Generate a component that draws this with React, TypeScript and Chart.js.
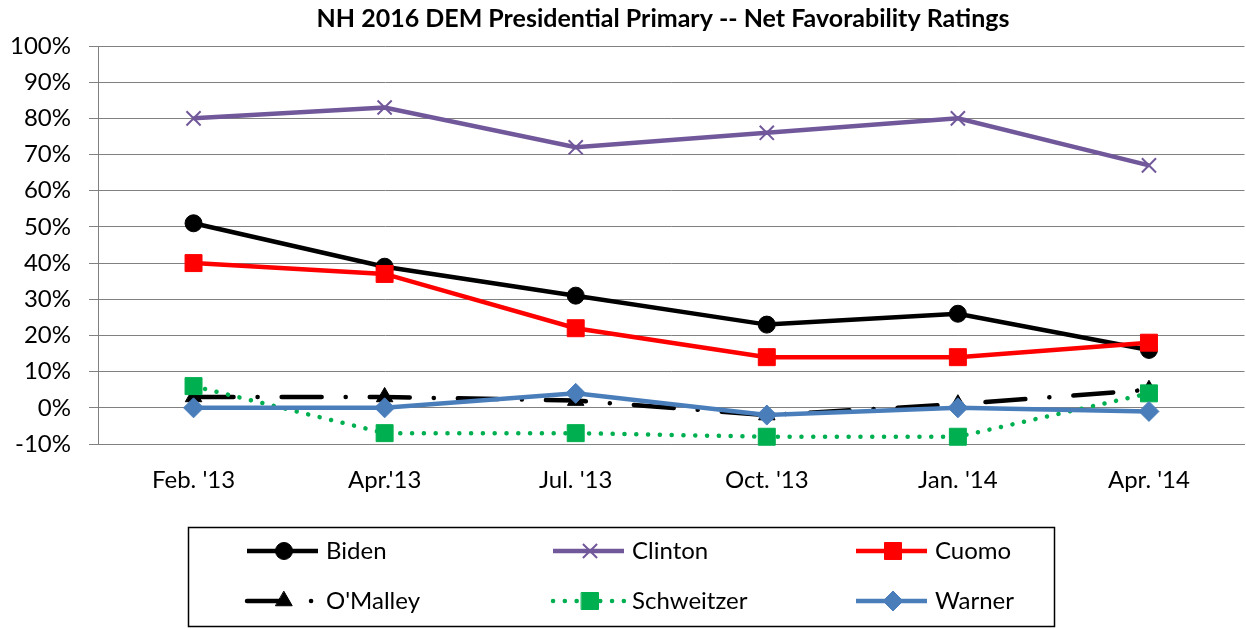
import React, { useEffect, useRef } from "react";
import { Chart, registerables } from "chart.js";
import { drawPoint } from "chart.js/helpers";

Chart.register(...registerables);

const TITLE = "NH 2016 DEM Presidential Primary -- Net Favorability Ratings";
const categories = ["Feb. '13", "Apr.'13", "Jul. '13", "Oct. '13", "Jan. '14", "Apr. '14"];
const biden = [51, 39, 31, 23, 26, 16];
const clinton = [80, 83, 72, 76, 80, 67];
const cuomo = [40, 37, 22, 14, 14, 18];
const omalley = [3, 3, 2, -2, 1, 5];
const schweitzer = [6, -7, -7, -8, -8, 4];
const warner = [0, 0, 4, -2, 0, -1];

const FONT = "Lato, 'Open Sans', sans-serif";
const AXIS_W = 98;
const PLOT_RIGHT = 1244.5;

type Series = {
  label: string;
  data: number[];
  color: string;
  style: string;
  radius: number;
  dash: number[];
  cap: CanvasLineCap;
  pbw: number;
  order: number;
};

const series: Series[] = [
  { label: "Biden", data: biden, color: "#000000", style: "circle", radius: 8.5, dash: [], cap: "butt", pbw: 1, order: 5 },
  { label: "Clinton", data: clinton, color: "#71589a", style: "crossRot", radius: 10, dash: [], cap: "butt", pbw: 2, order: 4 },
  { label: "Cuomo", data: cuomo, color: "#ff0000", style: "rect", radius: 12, dash: [], cap: "butt", pbw: 1, order: 3 },
  { label: "O'Malley", data: omalley, color: "#000000", style: "triangle", radius: 9.5, dash: [40, 24, 0.1, 24], cap: "round", pbw: 1, order: 2 },
  { label: "Schweitzer", data: schweitzer, color: "#00b050", style: "rect", radius: 12, dash: [0.1, 11.7], cap: "round", pbw: 1, order: 1 },
  { label: "Warner", data: warner, color: "#4a7ebb", style: "rectRot", radius: 10, dash: [], cap: "butt", pbw: 1, order: 0 },
];

const widenPlugin = {
  id: "widenArea",
  afterLayout(chart: any) {
    const ca = chart.chartArea;
    ca.right = PLOT_RIGHT;
    ca.width = ca.right - ca.left;
    const xs = chart.scales.x;
    xs.right = PLOT_RIGHT;
    xs.width = xs.right - xs.left;
    xs.configure();
  },
};

const legendPlugin = {
  id: "customLegend",
  afterDraw(chart: any) {
    const ctx: CanvasRenderingContext2D = chart.ctx;
    ctx.save();
    ctx.fillStyle = "#000";
    ctx.font = `bold 25px ${FONT}`;
    ctx.textAlign = "center";
    ctx.textBaseline = "alphabetic";
    ctx.fillText(TITLE, 663, 27);

    ctx.strokeStyle = "#000";
    ctx.lineWidth = 1.5;
    ctx.setLineDash([]);
    ctx.strokeRect(188.5, 527.5, 866, 99);

    const cols = [284, 590, 893];
    const rows = [551, 601];
    series.forEach((s, i) => {
      const cx = cols[i % 3];
      const cy = rows[Math.floor(i / 3)];
      ctx.save();
      ctx.strokeStyle = s.color;
      ctx.lineWidth = 4.5;
      ctx.lineCap = s.cap;
      ctx.setLineDash(s.dash);
      ctx.beginPath();
      ctx.moveTo(cx - 37, cy);
      ctx.lineTo(cx + 34, cy);
      ctx.stroke();
      ctx.setLineDash([]);
      ctx.fillStyle = s.color;
      ctx.strokeStyle = s.color;
      ctx.lineWidth = s.pbw;
      drawPoint(ctx, { pointStyle: s.style as any, rotation: 0, radius: s.radius, borderWidth: s.pbw }, cx, cy);
      ctx.restore();
      ctx.fillStyle = "#000";
      ctx.font = `24px ${FONT}`;
      ctx.textAlign = "left";
      ctx.textBaseline = "middle";
      ctx.fillText(s.label, cx + 42, cy);
    });
    ctx.restore();
  },
};

export default function App() {
  const ref = useRef<HTMLCanvasElement | null>(null);
  useEffect(() => {
    if (!ref.current) return;
    const chart = new Chart(ref.current, {
      type: "line",
      data: {
        labels: categories,
        datasets: series.map((s) => ({
          label: s.label,
          data: s.data,
          borderColor: s.color,
          backgroundColor: s.color,
          borderWidth: 4.5,
          borderDash: s.dash,
          borderCapStyle: s.cap,
          pointStyle: s.style as any,
          pointRadius: s.radius,
          pointBorderWidth: s.pbw,
          pointBackgroundColor: s.color,
          pointBorderColor: s.color,
          tension: 0,
          fill: false,
          clip: false as any,
          order: s.order,
        })),
      },
      options: {
        responsive: false,
        animation: false,
        layout: { padding: { top: 46, left: 0, right: 1.5, bottom: 0 } },
        plugins: {
          legend: { display: false },
          title: { display: false },
          tooltip: { enabled: false },
        },
        scales: {
          x: {
            offset: true,
            grid: { display: false, drawTicks: false },
            border: { display: true, color: "#808080", width: 1 },
            ticks: { color: "#000", font: { family: FONT, size: 24 }, padding: 22, maxRotation: 0 },
            afterFit: (s: any) => {
              s.height = 185;
              s.paddingLeft = 0;
              s.paddingRight = 0;
            },
          },
          y: {
            min: -10,
            max: 100,
            ticks: {
              stepSize: 10,
              color: "#000",
              font: { family: FONT, size: 24 },
              padding: 18,
              callback: (v: any) => `${v}%`,
            },
            grid: { color: "#808080", lineWidth: 1, tickLength: 9, drawTicks: true },
            border: { display: true, color: "#808080", width: 1 },
            afterFit: (s: any) => {
              s.width = AXIS_W;
              s.paddingTop = 0;
              s.paddingBottom = 0;
            },
          },
        },
      },
      plugins: [widenPlugin, legendPlugin],
    });
    return () => chart.destroy();
  }, []);
  return (
    <div style={{ position: "fixed", left: 0, top: 0, width: 1246, height: 629, background: "#fff" }}>
      <canvas ref={ref} width={1246} height={629} style={{ width: 1246, height: 629 }} />
    </div>
  );
}
